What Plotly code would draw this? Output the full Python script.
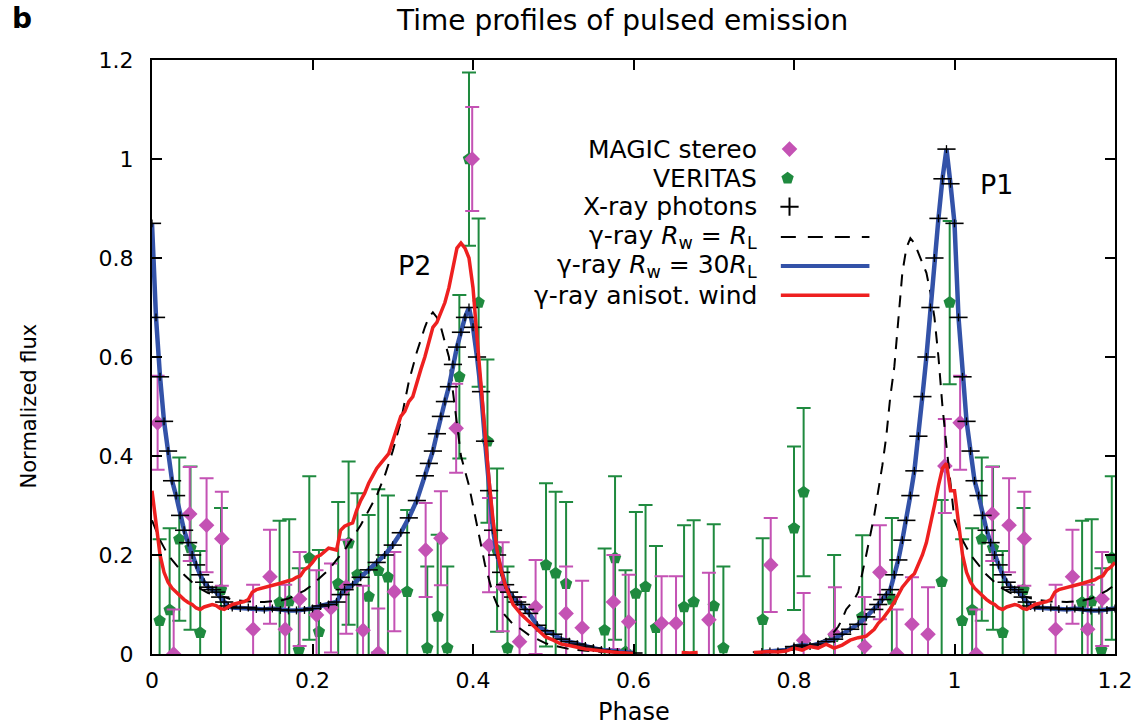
import plotly.graph_objects as go

# ------------------------------------------------------------------
# Data (one rotation period, phase 0-1; the 1.0-1.2 part repeats 0-0.2)
# ------------------------------------------------------------------
magic_phase = [0.007, 0.027, 0.047, 0.068, 0.087, 0.126, 0.147, 0.166, 0.184, 0.205,
               0.223, 0.242, 0.263, 0.282, 0.302, 0.341, 0.360, 0.379, 0.399, 0.420,
               0.437, 0.458, 0.478, 0.516, 0.536, 0.575, 0.594, 0.635, 0.653, 0.694,
               0.771, 0.812, 0.851, 0.888, 0.907, 0.928, 0.947, 0.967, 0.988]
magic_flux = [0.467, 0.0, 0.283, 0.26, 0.233, 0.05, 0.156, 0.05, 0.111, 0.079,
              0.093, 0.136, 0.048, 0.002, 0.126, 0.21, 0.234, 0.456, 1.0, 0.22,
              0.136, 0.025, 0.095, 0.082, 0.053, 0.105, 0.065, 0.062, 0.062, 0.069,
              0.18, 0.028, 0.04, 0.015, 0.165, 0.0, 0.06, 0.04, 0.38]
magic_err = [0.095, 0.09, 0.095, 0.095, 0.095, 0.09, 0.095, 0.09, 0.095, 0.09,
             0.09, 0.095, 0.09, 0.09, 0.08, 0.095, 0.095, 0.09, 0.105, 0.095,
             0.09, 0.09, 0.095, 0.095, 0.095, 0.095, 0.095, 0.095, 0.095, 0.095,
             0.095, 0.095, 0.095, 0.1, 0.095, 0.09, 0.095, 0.095, 0.095]

veritas_phase = [0.0095, 0.022, 0.034, 0.048, 0.060, 0.086, 0.159, 0.171, 0.183, 0.196,
                 0.208, 0.232, 0.245, 0.256, 0.270, 0.282, 0.294, 0.318, 0.343, 0.356,
                 0.368, 0.383, 0.395, 0.407, 0.418, 0.430, 0.443, 0.491, 0.503, 0.516,
                 0.564, 0.577, 0.590, 0.603, 0.615, 0.628, 0.663, 0.675, 0.700, 0.712,
                 0.761, 0.800, 0.812, 0.850, 0.885, 0.922, 0.984, 0.994]
veritas_flux = [0.067, 0.089, 0.232, 0.214, 0.043, 0.13, 0.104, 0.107, 0.008, 0.194,
                0.045, 0.142, 0.224, 0.16, 0.116, 0.168, 0.155, 0.126, 0.012, 0.076,
                0.012, 0.56, 1.0, 0.71, 0.43, 0.21, 0.012, 0.18, 0.163, 0.142,
                0.048, 0.194, 0.004, 0.122, 0.136, 0.053, 0.095, 0.105, 0.097, 0.012,
                0.069, 0.254, 0.327, 0.035, 0.075, 0.11, 0.146, 0.71]
veritas_err = [0.165, 0.165, 0.165, 0.165, 0.165, 0.165, 0.165, 0.165, 0.165, 0.165,
               0.165, 0.165, 0.165, 0.165, 0.165, 0.165, 0.165, 0.165, 0.165, 0.165,
               0.165, 0.165, 0.175, 0.17, 0.165, 0.165, 0.165, 0.165, 0.165, 0.165,
               0.165, 0.165, 0.165, 0.165, 0.165, 0.165, 0.165, 0.165, 0.165, 0.165,
               0.165, 0.165, 0.17, 0.165, 0.165, 0.165, 0.165, 0.165]

# X-ray photon profile (the R_w = 30 R_L model follows it)
xray_phase = [0.000, 0.005, 0.010, 0.015, 0.020, 0.025, 0.030, 0.035, 0.040, 0.045,
              0.050, 0.055, 0.060, 0.065, 0.070, 0.075, 0.080, 0.085, 0.090, 0.095,
              0.100, 0.110, 0.120, 0.130, 0.140, 0.150, 0.160, 0.170, 0.180, 0.190,
              0.200, 0.210, 0.220, 0.230, 0.235, 0.240, 0.250, 0.260, 0.270, 0.280,
              0.290, 0.300, 0.310, 0.320, 0.330, 0.340, 0.345, 0.350, 0.355, 0.360,
              0.365, 0.370, 0.375, 0.380, 0.385, 0.390, 0.395, 0.400, 0.405, 0.410,
              0.415, 0.420, 0.425, 0.430, 0.435, 0.440, 0.445, 0.450, 0.455, 0.460,
              0.465, 0.470, 0.480, 0.490, 0.500, 0.510, 0.520, 0.530, 0.540, 0.550,
              0.560, 0.570, 0.580, 0.590, 0.600, None,
              0.760, 0.770, 0.780, 0.790, 0.800, 0.810, 0.820, 0.830, 0.840, 0.850,
              0.860, 0.870, 0.880, 0.890, 0.900, 0.905, 0.910, 0.915, 0.920, 0.925,
              0.930, 0.935, 0.940, 0.945, 0.950, 0.955, 0.960, 0.965, 0.970, 0.975,
              0.980, 0.985, 0.990, 0.995]
xray_flux = [0.87, 0.68, 0.56, 0.47, 0.41, 0.35, 0.32, 0.28, 0.25, 0.225,
             0.2, 0.18, 0.16, 0.145, 0.135, 0.13, 0.125, 0.115, 0.105, 0.097,
             0.094, 0.093, 0.094, 0.091, 0.09, 0.092, 0.089, 0.088, 0.088, 0.089,
             0.092, 0.097, 0.1, 0.105, 0.12, 0.13, 0.14, 0.155, 0.17, 0.185,
             0.2, 0.22, 0.245, 0.275, 0.31, 0.36, 0.385, 0.41, 0.445, 0.48,
             0.51, 0.54, 0.585, 0.62, 0.65, 0.68, 0.70, 0.66, 0.6, 0.53,
             0.43, 0.33, 0.25, 0.2, 0.165, 0.14, 0.125, 0.115, 0.105, 0.1,
             0.09, 0.082, 0.058, 0.047, 0.04, 0.03, 0.025, 0.02, 0.016, 0.012,
             0.008, 0.006, 0.004, 0.003, 0.002, None,
             0.004, 0.005, 0.005, 0.008, 0.015, 0.018, 0.016, 0.02, 0.025, 0.03,
             0.04, 0.05, 0.06, 0.075, 0.09, 0.1, 0.11, 0.12, 0.13, 0.16,
             0.19, 0.23, 0.27, 0.32, 0.37, 0.44, 0.52, 0.6, 0.7, 0.8,
             0.88, 0.96, 1.02, 0.95]

wind30_phase = xray_phase
wind30_flux = xray_flux

windRL_phase = [0.000, 0.010, 0.020, 0.030, 0.040, 0.050, 0.060, 0.070, 0.080, 0.090,
                0.100, 0.120, 0.140, 0.160, 0.170, 0.180, 0.190, 0.200, 0.210, 0.220,
                0.230, 0.240, 0.250, 0.260, 0.270, 0.280, 0.290, 0.300, 0.310, 0.320,
                0.330, 0.340, 0.345, 0.350, 0.355, 0.360, 0.365, 0.370, 0.375, 0.380,
                0.385, 0.390, 0.395, 0.400, 0.405, 0.410, 0.415, 0.420, 0.425, 0.430,
                0.440, 0.450, 0.460, 0.470, 0.480, 0.490, 0.500, 0.520, 0.550, 0.580,
                0.600, None,
                0.750, 0.760, 0.770, 0.780, 0.790, 0.800, 0.810, 0.820, 0.830, 0.840,
                0.850, 0.855, 0.860, 0.865, 0.870, 0.875, 0.880, 0.885, 0.890, 0.895,
                0.900, 0.905, 0.910, 0.915, 0.920, 0.925, 0.930, 0.935, 0.940, 0.945,
                0.950, 0.955, 0.960, 0.965, 0.970, 0.975, 0.980, 0.985, 0.990, 0.995]
windRL_flux = [0.27, 0.23, 0.2, 0.18, 0.16, 0.145, 0.132, 0.123, 0.12, 0.115,
               0.11, 0.106, 0.105, 0.108, 0.112, 0.12, 0.128, 0.14, 0.155, 0.17,
               0.19, 0.21, 0.235, 0.26, 0.29, 0.32, 0.36, 0.41, 0.47, 0.55,
               0.61, 0.66, 0.68, 0.69, 0.68, 0.66, 0.63, 0.6, 0.53, 0.46,
               0.4, 0.37, 0.34, 0.3, 0.26, 0.22, 0.18, 0.15, 0.12, 0.1,
               0.078, 0.06, 0.05, 0.038, 0.03, 0.022, 0.017, 0.01, 0.005, 0.003,
               0.001, None,
               0.002, 0.003, 0.004, 0.005, 0.006, 0.009, 0.012, 0.016, 0.022, 0.03,
               0.045, 0.055, 0.07, 0.09, 0.1, 0.11, 0.125, 0.16, 0.2, 0.24,
               0.28, 0.33, 0.38, 0.44, 0.52, 0.58, 0.68, 0.77, 0.82, 0.84,
               0.83, 0.81, 0.79, 0.77, 0.73, 0.68, 0.6, 0.5, 0.42, 0.34]

aniso_phase = [0.000, 0.005, 0.010, 0.015, 0.020, 0.025, 0.030, 0.035, 0.040, 0.045,
               0.050, 0.055, 0.060, 0.065, 0.070, 0.075, 0.080, 0.085, 0.090, 0.095,
               0.100, 0.105, 0.110, 0.115, 0.120, 0.125, 0.130, 0.135, 0.140, 0.145,
               0.150, 0.155, 0.160, 0.170, 0.175, 0.180, 0.185, 0.190, 0.195, 0.200,
               0.205, 0.210, 0.215, 0.220, 0.225, 0.230, 0.235, 0.240, 0.245, 0.250,
               0.255, 0.260, 0.265, 0.270, 0.275, 0.280, 0.285, 0.290, 0.295, 0.300,
               0.305, 0.310, 0.315, 0.320, 0.325, 0.330, 0.335, 0.340, 0.345, 0.350,
               0.355, 0.360, 0.365, 0.370, 0.375, 0.380, 0.385, 0.390, 0.395, 0.400,
               0.405, 0.410, 0.415, 0.420, 0.425, 0.430, 0.435, 0.440, 0.445, 0.450,
               0.455, 0.460, 0.470, 0.480, 0.490, 0.500, 0.510, 0.520, 0.530, 0.540,
               0.550, 0.560, 0.570, 0.580, 0.590, 0.600, None,
               0.660, 0.670, 0.680, None,
               0.750, 0.760, 0.770, 0.780, 0.790, 0.800, 0.810, 0.820, 0.830, 0.840,
               0.850, 0.860, 0.870, 0.880, 0.890, 0.900, 0.905, 0.910, 0.915, 0.920,
               0.925, 0.930, 0.935, 0.940, 0.945, 0.950, 0.955, 0.960, 0.965, 0.970,
               0.975, 0.980, 0.985, 0.990, 0.995]
aniso_flux = [0.33, 0.26, 0.2, 0.165, 0.145, 0.133, 0.125, 0.117, 0.11, 0.104,
              0.1, 0.093, 0.09, 0.095, 0.097, 0.1, 0.098, 0.092, 0.09, 0.095,
              0.1, 0.102, 0.104, 0.106, 0.11, 0.125, 0.13, 0.132, 0.134, 0.136,
              0.138, 0.14, 0.143, 0.148, 0.15, 0.155, 0.158, 0.17, 0.176, 0.185,
              0.196, 0.2, 0.207, 0.214, 0.212, 0.21, 0.25, 0.258, 0.262, 0.265,
              0.29, 0.31, 0.325, 0.345, 0.36, 0.375, 0.385, 0.395, 0.405, 0.43,
              0.455, 0.48, 0.49, 0.51, 0.52, 0.55, 0.575, 0.6, 0.63, 0.66,
              0.67, 0.69, 0.71, 0.74, 0.78, 0.82, 0.83, 0.82, 0.8, 0.74,
              0.64, 0.54, 0.44, 0.35, 0.27, 0.21, 0.17, 0.14, 0.12, 0.1,
              0.09, 0.08, 0.065, 0.05, 0.035, 0.028, 0.02, 0.017, 0.013, 0.01,
              0.008, 0.006, 0.004, 0.003, 0.002, 0.001, None,
              0.003, 0.002, 0.003, None,
              0.003, 0.004, 0.005, 0.004, 0.006, 0.012, 0.008, 0.015, 0.012, 0.02,
              0.012, 0.018, 0.028, 0.033, 0.036, 0.05, 0.062, 0.07, 0.08, 0.092,
              0.105, 0.12, 0.135, 0.145, 0.155, 0.162, 0.18, 0.2, 0.225, 0.26,
              0.3, 0.34, 0.375, 0.385, 0.33]

x_ticks = [0, 0.2, 0.4, 0.6, 0.8, 1.0, 1.2]
x_tick_labels = ["0", "0.2", "0.4", "0.6", "0.8", "1", "1.2"]
y_ticks = [0, 0.2, 0.4, 0.6, 0.8, 1.0, 1.2]
y_tick_labels = ["0", "0.2", "0.4", "0.6", "0.8", "1", "1.2"]

# ------------------------------------------------------------------
MAGENTA = "#c452b4"
GREEN = "#1f8a3f"
BLUE = "#3352a8"
RED = "#ee2020"
FONT = "DejaVu Sans"


def wrap_curve(ph, fl):
    """Append the 0-0.2 part of a periodic profile at phase 1.0-1.2."""
    xs, ys = list(ph), list(fl)
    for p, f in zip(ph, fl):
        if p is not None and p <= 0.2 + 1e-9:
            xs.append(p + 1.0)
            ys.append(f)
    return xs, ys


def wrap_points(ph, fl, er):
    xs, ys, es = list(ph), list(fl), list(er)
    for p, f, e in zip(ph, fl, er):
        if p <= 0.2 + 1e-9:
            xs.append(p + 1.0)
            ys.append(f)
            es.append(e)
    return xs, ys, es


fig = go.Figure()

vx, vy, ve = wrap_points(veritas_phase, veritas_flux, veritas_err)
fig.add_trace(go.Scatter(
    x=vx, y=vy, mode="markers", name="VERITAS",
    marker=dict(symbol="pentagon", size=13, color=GREEN),
    error_y=dict(type="data", array=ve, color=GREEN, thickness=2, width=7),
))

mx, my, me = wrap_points(magic_phase, magic_flux, magic_err)
fig.add_trace(go.Scatter(
    x=mx, y=my, mode="markers", name="MAGIC stereo",
    marker=dict(symbol="diamond", size=12, color=MAGENTA),
    error_y=dict(type="data", array=me, color=MAGENTA, thickness=2, width=7),
))

dx, dy = wrap_curve(windRL_phase, windRL_flux)
fig.add_trace(go.Scatter(
    x=dx, y=dy, mode="lines", name="RL",
    line=dict(color="black", width=2, dash="12px,9px"),
))

bx, by = wrap_curve(wind30_phase, wind30_flux)
fig.add_trace(go.Scatter(
    x=bx, y=by, mode="lines", name="30RL",
    line=dict(color=BLUE, width=4.5),
))

xx, xy = wrap_curve(xray_phase, xray_flux)
fig.add_trace(go.Scatter(
    x=xx, y=xy, mode="markers", name="X-ray",
    marker=dict(symbol="line-ew", size=13, color="black",
                line=dict(color="black", width=1.6)),
    error_y=dict(type="constant", value=0.008, color="black", thickness=1.3, width=0),
))

rx, ry = wrap_curve(aniso_phase, aniso_flux)
fig.add_trace(go.Scatter(
    x=rx, y=ry, mode="lines", name="aniso",
    line=dict(color=RED, width=3.5),
))

# ---------------- custom legend (text left, key right) ----------------
leg_rows = [0.850, 0.801, 0.753, 0.702, 0.653, 0.604]
leg_text = ["MAGIC stereo", "VERITAS", "X-ray photons",
            "γ-ray <i>R</i><sub>w</sub> = <i>R</i><sub>L</sub>",
            "γ-ray <i>R</i><sub>w</sub> = 30<i>R</i><sub>L</sub>",
            "γ-ray anisot. wind"]
annotations = []
for yy, tt in zip(leg_rows, leg_text):
    annotations.append(dict(x=0.630, y=yy, xref="paper", yref="paper", text=tt,
                            showarrow=False, xanchor="right", yanchor="middle",
                            font=dict(family=FONT, size=25, color="black")))

fig.add_trace(go.Scatter(x=[0.662], y=[leg_rows[0]], xaxis="x2", yaxis="y2",
                         mode="markers", showlegend=False, hoverinfo="skip",
                         marker=dict(symbol="diamond", size=12, color=MAGENTA)))
fig.add_trace(go.Scatter(x=[0.660], y=[leg_rows[1]], xaxis="x2", yaxis="y2",
                         mode="markers", showlegend=False, hoverinfo="skip",
                         marker=dict(symbol="pentagon", size=13, color=GREEN)))
fig.add_trace(go.Scatter(x=[0.662], y=[leg_rows[2]], xaxis="x2", yaxis="y2",
                         mode="markers", showlegend=False, hoverinfo="skip",
                         marker=dict(symbol="cross-thin", size=13, color="black",
                                     line=dict(color="black", width=2))))

shapes = [
    dict(type="line", xref="paper", yref="paper", x0=0.653, x1=0.745,
         y0=leg_rows[3], y1=leg_rows[3], line=dict(color="black", width=2, dash="15px,12px")),
    dict(type="line", xref="paper", yref="paper", x0=0.653, x1=0.745,
         y0=leg_rows[4], y1=leg_rows[4], line=dict(color=BLUE, width=4)),
    dict(type="line", xref="paper", yref="paper", x0=0.653, x1=0.745,
         y0=leg_rows[5], y1=leg_rows[5], line=dict(color=RED, width=3.5)),
]

# ---------------- texts ----------------
annotations += [
    dict(x=0.488, y=1.067, xref="paper", yref="paper", text="Time profiles of pulsed emission",
         showarrow=False, xanchor="center", yanchor="middle",
         font=dict(family=FONT, size=28, color="black")),
    dict(x=-0.135, y=1.070, xref="paper", yref="paper", text="<b>b</b>",
         showarrow=False, xanchor="center", yanchor="middle",
         font=dict(family=FONT, size=28, color="black")),
    dict(x=0.5, y=-0.098, xref="paper", yref="paper", text="Phase",
         showarrow=False, xanchor="center", yanchor="middle",
         font=dict(family=FONT, size=24, color="black")),
    dict(x=-0.128, y=0.418, xref="paper", yref="paper", text="Normalized flux",
         showarrow=False, xanchor="center", yanchor="middle", textangle=-90,
         font=dict(family=FONT, size=21, color="black")),
    dict(x=0.327, y=0.785, xref="x", yref="y", text="P2",
         showarrow=False, xanchor="center", yanchor="middle",
         font=dict(family=FONT, size=27, color="black")),
    dict(x=1.052, y=0.948, xref="x", yref="y", text="P1",
         showarrow=False, xanchor="center", yanchor="middle",
         font=dict(family=FONT, size=27, color="black")),
]

axis_common = dict(showgrid=False, zeroline=False, showline=True, linecolor="black",
                   linewidth=2, mirror="ticks", ticks="inside", ticklen=10,
                   tickwidth=1.5, tickcolor="black",
                   tickfont=dict(family=FONT, size=22, color="black"))

fig.update_layout(
    width=1145, height=728,
    margin=dict(l=152, r=28, t=60, b=74),
    paper_bgcolor="white", plot_bgcolor="white",
    showlegend=False,
    xaxis=dict(range=[0, 1.2], tickvals=x_ticks, ticktext=x_tick_labels,
               ticklabelstandoff=6, **axis_common),
    yaxis=dict(range=[0, 1.2], tickvals=y_ticks, ticktext=y_tick_labels,
               ticklabelstandoff=12, **axis_common),
    xaxis2=dict(overlaying="x", range=[0, 1], visible=False, fixedrange=True),
    yaxis2=dict(overlaying="y", range=[0, 1], visible=False, fixedrange=True),
    annotations=annotations,
    shapes=shapes,
)

fig.write_html("out.html",
               config={"displayModeBar": False},
               post_script="document.body.style.margin='0px';document.body.style.overflow='hidden';")
